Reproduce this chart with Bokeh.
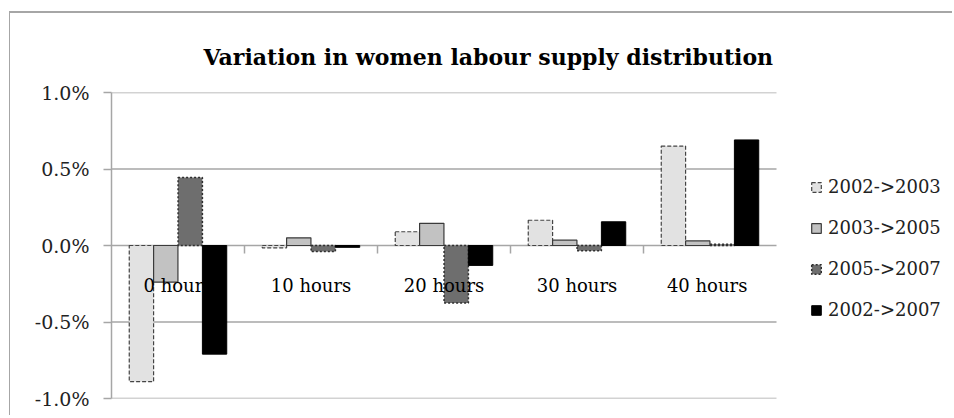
import numpy as np
from bokeh.plotting import figure
from bokeh.models import (Range1d, FixedTicker, PrintfTickFormatter,
                          Legend, LegendItem, ColumnDataSource, Title)
from bokeh.core.properties import value
from bokeh.embed import file_html
from bokeh.resources import INLINE

categories = ["0 hours", "10 hours", "20 hours", "30 hours", "40  hours"]
series_names = ["2002->2003", "2003->2005", "2005->2007", "2002->2007"]
s_2002_2003 = [-0.89, -0.015, 0.09, 0.165, 0.65]
s_2003_2005 = [-0.24, 0.05, 0.145, 0.035, 0.03]
s_2005_2007 = [0.445, -0.04, -0.375, -0.035, 0.008]
s_2002_2007 = [-0.71, -0.012, -0.13, 0.155, 0.69]
y_ticks = [-1.0, -0.5, 0.0, 0.5, 1.0]

FONT = "DejaVu Serif"
GRID = "#a6a6a6"

n = len(categories)
pos = np.arange(n) + 0.5          # category centres on a numeric axis
zero = np.zeros(n)

# plot area is widened to the right so the legend can live inside it;
# the value axis (gridlines) spans only the category part, as in the original
p = figure(width=943, height=404, x_range=Range1d(0, n * 832 / 665),
           y_range=Range1d(-1.0, 1.0), output_backend="svg",
           toolbar_location=None, x_axis_location=None,
           min_border_left=101, min_border_right=10,
           min_border_top=79, min_border_bottom=19)
# chart-area border: only its top and left edges are visible in the original
p.styles = {"margin-left": "9px", "margin-top": "11px",
            "border-top": "2px solid #a6a6a6", "border-left": "1px solid #a6a6a6"}
p.outline_line_color = None
p.background_fill_color = "white"
p.border_fill_color = "white"

p.title = Title(text="Variation in women labour supply distribution",
                align="left", offset=92, text_font=FONT,
                text_font_size="22px", text_font_style="bold",
                text_color="black", standoff=45)

p.xgrid.grid_line_color = None
p.ygrid.grid_line_color = None

# horizontal gridlines at the value ticks, over the category span only
p.segment(x0=np.zeros(len(y_ticks)), x1=np.full(len(y_ticks), n),
          y0=y_ticks, y1=y_ticks, line_color=GRID, line_width=1.5,
          level="underlay")

ax = p.yaxis[0]
ax.ticker = FixedTicker(ticks=y_ticks)
ax.formatter = PrintfTickFormatter(format="%.1f%%")
ax.axis_line_color = GRID
ax.axis_line_width = 1.5
ax.major_tick_line_color = GRID
ax.major_tick_line_width = 1.5
ax.major_tick_in = 0
ax.major_tick_out = 8
ax.minor_tick_line_color = None
ax.major_label_text_font = FONT
ax.major_label_text_font_size = "19px"
ax.major_label_text_color = "#222222"
ax.major_label_standoff = 14

W = 0.183
src = ColumnDataSource(dict(x=pos, cat=categories, zero=zero))
r1 = p.vbar(x=pos - 0.275, top=s_2002_2003, bottom=zero, width=W,
            fill_color="#e2e2e2", line_color="#444444",
            line_dash="4 2", line_width=1.2)
r2 = p.vbar(x=pos - 0.092, top=s_2003_2005, bottom=zero, width=W,
            fill_color="#c2c2c2", line_color="#3a3a3a", line_width=1.2)
r3 = p.vbar(x=pos + 0.092, top=s_2005_2007, bottom=zero, width=W,
            fill_color="#6e6e6e", line_color="#2e2e2e",
            line_dash="2 2", line_width=1.5)
r4 = p.vbar(x=pos + 0.275, top=s_2002_2007, bottom=zero, width=W,
            fill_color="black", line_color="black", line_width=1)

# category tick marks between groups
p.segment(x0=pos[:-1] + 0.5, y0=zero[:-1], x1=pos[:-1] + 0.5,
          y1=zero[:-1] - 0.052, line_color=GRID, line_width=1.5)

# category labels (drawn over bars like the original)
p.text(x="x", y="zero", text="cat", source=src, y_offset=40,
       text_align="center", text_baseline="middle", text_font=value(FONT),
       text_font_size="18px", text_color="black")

legend = Legend(items=[LegendItem(label=series_names[0], renderers=[r1]),
                       LegendItem(label=series_names[1], renderers=[r2]),
                       LegendItem(label=series_names[2], renderers=[r3]),
                       LegendItem(label=series_names[3], renderers=[r4])],
                location=(699, 78), orientation="vertical",
                glyph_width=12, glyph_height=12, label_height=20, spacing=20,
                padding=0, margin=0, label_standoff=6,
                label_text_font=FONT, label_text_font_size="18px",
                label_text_color="#222222",
                border_line_color=None, background_fill_alpha=0)
p.add_layout(legend, "center")

open("out.html", "w").write(file_html(p, INLINE))
